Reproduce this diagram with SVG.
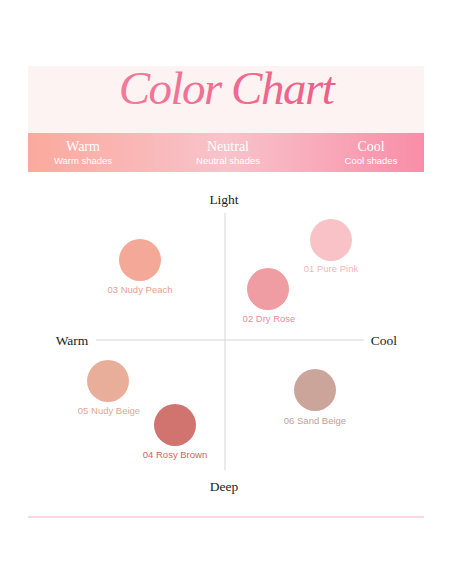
<svg xmlns="http://www.w3.org/2000/svg" width="452" height="584" viewBox="0 0 452 584">
<defs>
<linearGradient id="band" x1="0" y1="0" x2="1" y2="0">
<stop offset="0" stop-color="#FBA99D"/>
<stop offset="0.5" stop-color="#F8C3CB"/>
<stop offset="1" stop-color="#F98DA8"/>
</linearGradient>
<linearGradient id="title" x1="0" y1="0" x2="1" y2="0">
<stop offset="0" stop-color="#F27A9A"/>
<stop offset="1" stop-color="#EC5F86"/>
</linearGradient>
</defs>
<style>
.bandT{font-family:"Liberation Serif",serif;font-size:14px;fill:#fff;text-anchor:middle}
.bandS{font-family:"Liberation Sans",sans-serif;font-size:9.5px;fill:#fff;text-anchor:middle}
.axisT{font-family:"Liberation Serif",serif;font-size:13.5px;fill:#222;text-anchor:middle}
.lbl{font-family:"Liberation Sans",sans-serif;font-size:9.5px;text-anchor:middle}
.axis{stroke:#D6D6D6;stroke-width:1}
</style>
<rect width="452" height="584" fill="#fff"/>
<g id="header">
<rect x="28" y="66" width="396" height="67" fill="#FDF3F2"/>
<text x="226" y="104" font-family="Liberation Serif,serif" font-style="italic" font-size="47" fill="url(#title)" text-anchor="middle" letter-spacing="-1.5">Color Chart</text>
<rect x="28" y="133" width="396" height="39" fill="url(#band)"/>
<text class="bandT" x="83" y="151">Warm</text>
<text class="bandS" x="83" y="164">Warm shades</text>
<text class="bandT" x="228" y="151">Neutral</text>
<text class="bandS" x="228" y="164">Neutral shades</text>
<text class="bandT" x="371" y="151">Cool</text>
<text class="bandS" x="371" y="164">Cool shades</text>
</g>
<g id="axes">
<line class="axis" x1="225" y1="213" x2="225" y2="470"/>
<line class="axis" x1="96" y1="340" x2="364" y2="340"/>
<text class="axisT" x="224" y="204">Light</text>
<text class="axisT" x="224" y="491">Deep</text>
<text class="axisT" x="72" y="345">Warm</text>
<text class="axisT" x="384" y="345">Cool</text>
</g>
<g id="s03">
<circle cx="140" cy="260" r="21" fill="#F3A898"/>
<text class="lbl" x="140" y="293" fill="#EBA08F">03 Nudy Peach</text>
</g>
<g id="s01">
<circle cx="331" cy="240" r="21" fill="#F9C2C6"/>
<text class="lbl" x="331" y="272" fill="#F3B4BC">01 Pure Pink</text>
</g>
<g id="s02">
<circle cx="268" cy="289" r="21" fill="#EF9DA3"/>
<text class="lbl" x="269" y="322" fill="#EC8E98">02 Dry Rose</text>
</g>
<g id="s05">
<circle cx="108" cy="381" r="21" fill="#E9AE99"/>
<text class="lbl" x="109" y="414" fill="#E4A591">05 Nudy Beige</text>
</g>
<g id="s04">
<circle cx="175" cy="425" r="21" fill="#D1736F"/>
<text class="lbl" x="175" y="458" fill="#C96863">04 Rosy Brown</text>
</g>
<g id="s06">
<circle cx="315" cy="390" r="21" fill="#CBA49A"/>
<text class="lbl" x="315" y="424" fill="#C3A097">06 Sand Beige</text>
</g>
<line x1="28" y1="517" x2="424" y2="517" stroke="#F7CDD5" stroke-width="1.5"/>
</svg>
